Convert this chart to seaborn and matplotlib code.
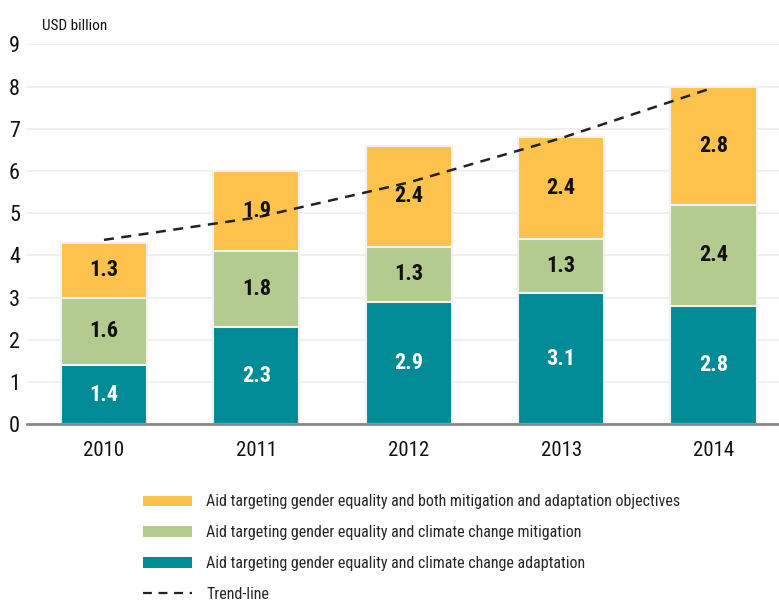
import numpy as np
import pandas as pd
import seaborn as sns
import matplotlib.pyplot as plt
from matplotlib.patches import Patch
from matplotlib.lines import Line2D

# data
years = ['2010', '2011', '2012', '2013', '2014']
adaptation = [1.4, 2.3, 2.9, 3.1, 2.8]
mitigation = [1.6, 1.8, 1.3, 1.3, 2.4]
both = [1.3, 1.9, 2.4, 2.4, 2.8]
trend = [4.37, 4.90, 5.73, 6.78, 7.98]

labels = [
    'Aid targeting gender equality and both mitigation and adaptation objectives',
    'Aid targeting gender equality and climate change mitigation',
    'Aid targeting gender equality and climate change adaptation',
    'Trend-line',
]
col_both = '#fdc24b'
col_mit = '#b4cb8f'
col_ad = '#008b96'

sns.set_style('white')
plt.rcParams['font.family'] = ['Roboto Condensed', 'DejaVu Sans']

df = pd.DataFrame({'year': years, 'ad': adaptation, 'mit': mitigation, 'both': both})
df['lvl1'] = df['ad']
df['lvl2'] = df['ad'] + df['mit']
df['lvl3'] = df['lvl2'] + df['both']

fig = plt.figure(figsize=(7.79, 6.01), dpi=100)
ax = fig.add_axes([0.0347, 0.294, 0.9653, 0.632])

# stacked bars: draw totals first, then overlay lower parts
for col, c in [('lvl3', col_both), ('lvl2', col_mit), ('lvl1', col_ad)]:
    sns.barplot(data=df, x='year', y=col, color=c, saturation=1, width=0.566,
                edgecolor='#f2f2f2', linewidth=1.5, ax=ax, zorder=2)

# segment labels
for i in range(len(years)):
    ax.text(i, adaptation[i] / 2, f'{adaptation[i]:.1f}', ha='center', va='center',
            color='white', fontsize=16, fontweight='bold', zorder=5)
    ax.text(i, df['lvl1'][i] + mitigation[i] / 2, f'{mitigation[i]:.1f}', ha='center',
            va='center', color='#111111', fontsize=16, fontweight='bold', zorder=5)
    ax.text(i, df['lvl2'][i] + both[i] / 2, f'{both[i]:.1f}', ha='center',
            va='center', color='#111111', fontsize=16, fontweight='bold', zorder=5)

sns.lineplot(x=np.arange(len(years)), y=trend, color='#222222', linestyle=(0, (4, 3)),
             linewidth=1.8, ax=ax, zorder=4)

ax.set_ylim(0, 9)
ax.set_xlim(-0.505, 4.43)
ax.set_yticks(range(0, 10))
ax.yaxis.grid(True, color='#eeeeee', linewidth=1.2, zorder=0)
ax.set_axisbelow(True)
ax.set_xlabel('')
ax.set_ylabel('')
for s in ['top', 'right', 'left']:
    ax.spines[s].set_visible(False)
ax.spines['bottom'].set_color('#888888')
ax.spines['bottom'].set_linewidth(2)
ax.spines['bottom'].set_zorder(6)
ax.tick_params(axis='y', length=0, pad=5, labelsize=16, labelcolor='#111111')
ax.tick_params(axis='x', length=0, pad=12, labelsize=15, labelcolor='#111111')

fig.text(42 / 779, 1 - 26 / 601, 'USD billion', ha='left', va='center',
         fontsize=11, color='#111111')

handles = [
    Patch(facecolor=col_both, edgecolor='none'),
    Patch(facecolor=col_mit, edgecolor='none'),
    Patch(facecolor=col_ad, edgecolor='none'),
    Line2D([], [], color='#222222', linestyle=(0, (4, 3)), linewidth=1.6),
]
fig.legend(handles, labels, loc='upper left', bbox_to_anchor=(137 / 779, 1 - 488 / 601),
           frameon=False, fontsize=11.5, handlelength=3.06, handleheight=0.63,
           labelspacing=0.99, handletextpad=0.87, borderaxespad=0)

fig.savefig('out.png', dpi=100)
